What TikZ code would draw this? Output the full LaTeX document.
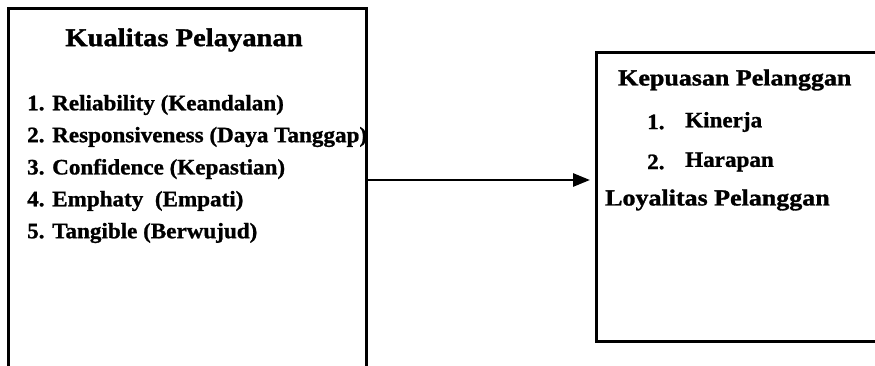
\documentclass[tikz,border=0pt]{standalone}
\usepackage{fontspec}
\setmainfont{Liberation Serif}
\newfontfamily\headfont{Liberation Serif Bold}[FakeStretch=1.12, FakeBold=1.3]
\newfontfamily\sideheadfont{Liberation Serif Bold}[FakeStretch=1.13, FakeBold=1.3]
\newfontfamily\itemfont{Liberation Serif Bold}[FakeStretch=1.05, FakeBold=1.1]
\usetikzlibrary{arrows.meta}
\begin{document}
\begin{tikzpicture}[x=1pt,y=-1pt,
  frame/.style={line width=3pt, line cap=rect},
  heading/.style={inner sep=0pt, font=\headfont\fontsize{25.5}{28}\selectfont},
  sidehead/.style={inner sep=0pt, anchor=west, font=\sideheadfont\fontsize{23}{26}\selectfont},
  itemtext/.style={inner sep=0pt, anchor=west, font=\itemfont\fontsize{22}{25}\selectfont},
  link/.style={line width=2.8pt, -{Triangle[length=17pt,width=13pt]}}]
  \useasboundingbox (0,0) rectangle (875,366);

  % left box: open at the bottom of the page
  \draw[frame] (8,366) -- (8,9) -- (366,9) -- (366,366);
  \node[heading] (kp) at (184,40) {Kualitas Pelayanan};
  \node[itemtext] (k1) at (27,105) {1. Reliability (Keandalan)};
  \node[itemtext] (k2) at (27,137) {2. Responsiveness (Daya Tanggap)};
  \node[itemtext] (k3) at (27,169) {3. Confidence (Kepastian)};
  \node[itemtext] (k4) at (27,201) {4. Emphaty\ \ (Empati)};
  \node[itemtext] (k5) at (27,233) {5. Tangible (Berwujud)};

  % right box: continues past the right edge
  \draw[frame] (875,53) -- (596,53) -- (596,341) -- (875,341);
  \node[sidehead] (pp) at (618,80) {Kepuasan Pelanggan};
  \node[itemtext] (p1n) at (647,122) {1.};
  \node[itemtext] (p1) at (685,122) {Kinerja};
  \node[itemtext] (p2n) at (647,162) {2.};
  \node[itemtext] (p2) at (685,162) {Harapan};
  \node[sidehead] (lp) at (605,200) {Loyalitas Pelanggan};

  % connector between the boxes
  \coordinate (from) at (366,180);
  \coordinate (to) at (590,180);
  \draw[link] (from) -- (to);
\end{tikzpicture}
\end{document}
